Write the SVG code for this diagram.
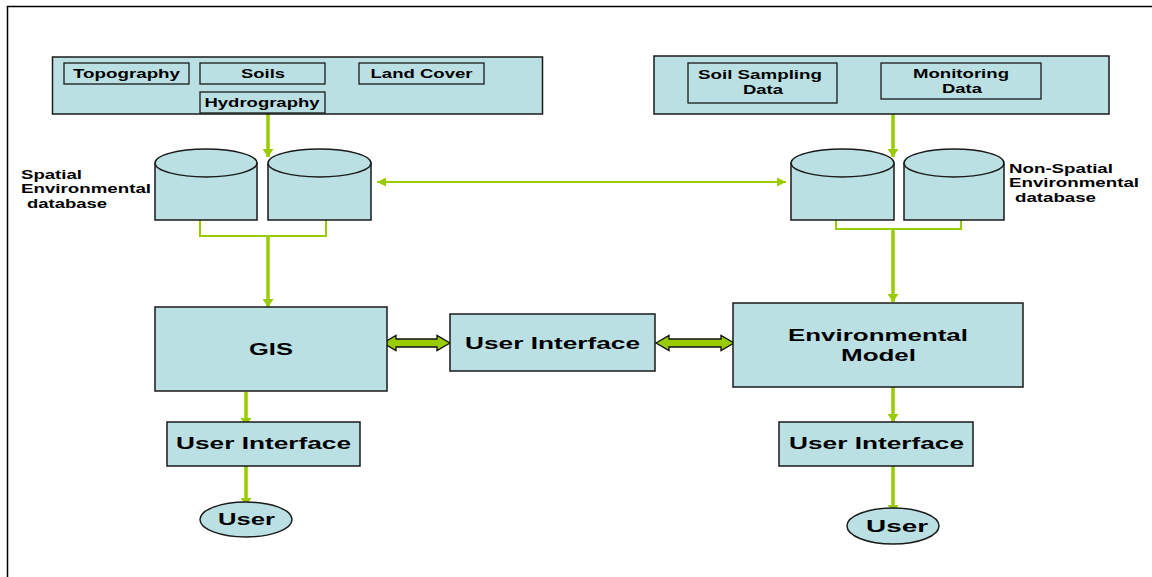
<svg xmlns="http://www.w3.org/2000/svg" width="1152" height="577" viewBox="0 0 1152 577">
<style>
.box{fill:#bbe0e3;stroke:#1a1a1a;stroke-width:1.5}
.inner{fill:#bbe0e3;stroke:#1a1a1a;stroke-width:1.3}
.t{font-family:"Liberation Sans",Arial,sans-serif;font-weight:bold;fill:#000}
.s{font-size:13px}
.l{font-size:17px}
.c{text-anchor:middle}
.ln{stroke:#99cc00;fill:none}
.fat{fill:#99cc00;stroke:#111;stroke-width:1.3;stroke-linejoin:miter}
</style>
<defs>
<marker id="ah" markerUnits="userSpaceOnUse" markerWidth="8" markerHeight="11" viewBox="0 0 8 11" refX="8" refY="5.5" orient="auto-start-reverse">
<path d="M0,0 L8,5.5 L0,11 z" fill="#99cc00"/>
</marker>
<marker id="ahs" markerUnits="userSpaceOnUse" markerWidth="9" markerHeight="9" viewBox="0 0 9 9" refX="9" refY="4.5" orient="auto-start-reverse">
<path d="M0,0 L9,4.5 L0,9 z" fill="#99cc00"/>
</marker>
</defs>
<rect width="1152" height="577" fill="#fff"/>
<path d="M7.5,577 V6.5 H1152" fill="none" stroke="#000" stroke-width="1.5"/>

<g id="connectors">
<line class="ln" x1="268" y1="114" x2="268" y2="157" stroke-width="3.5" marker-end="url(#ah)"/>
<line class="ln" x1="893" y1="114" x2="893" y2="157" stroke-width="3.5" marker-end="url(#ah)"/>
<polyline class="ln" points="200,220 200,236 326,236 326,220" stroke-width="2"/>
<polyline class="ln" points="836,220 836,229 961,229 961,220" stroke-width="2"/>
<line class="ln" x1="268" y1="236" x2="268" y2="307" stroke-width="3.5" marker-end="url(#ah)"/>
<line class="ln" x1="893" y1="229" x2="893" y2="302" stroke-width="3.5" marker-end="url(#ah)"/>
<line class="ln" x1="377" y1="182" x2="786" y2="182" stroke-width="2.2" marker-start="url(#ahs)" marker-end="url(#ahs)"/>
<line class="ln" x1="246" y1="392" x2="246" y2="426" stroke-width="3.5" marker-end="url(#ah)"/>
<line class="ln" x1="246" y1="466" x2="246" y2="506" stroke-width="3.5" marker-end="url(#ah)"/>
<line class="ln" x1="893" y1="387" x2="893" y2="422" stroke-width="3.5" marker-end="url(#ah)"/>
<line class="ln" x1="893" y1="466" x2="893" y2="513" stroke-width="3.5" marker-end="url(#ah)"/>
<polygon class="fat" points="383,343 396,335.5 396,339 437,339 437,335.5 450,343 437,350.5 437,347 396,347 396,350.5"/>
<polygon class="fat" points="656,343 669,335.5 669,339 721,339 721,335.5 734,343 721,350.5 721,347 669,347 669,350.5"/>
</g>

<g id="spatial-sources">
<rect class="box" x="52.5" y="57" width="490" height="57"/>
<g id="topography"><rect class="inner" x="64" y="63" width="125" height="21"/><text class="t s c" x="126.5" y="78" textLength="107" lengthAdjust="spacingAndGlyphs">Topography</text></g>
<g id="soils"><rect class="inner" x="200" y="63" width="125" height="21"/><text class="t s c" x="263" y="78" textLength="44" lengthAdjust="spacingAndGlyphs">Soils</text></g>
<g id="landcover"><rect class="inner" x="359" y="63" width="125" height="21"/><text class="t s c" x="421.5" y="78" textLength="102" lengthAdjust="spacingAndGlyphs">Land Cover</text></g>
<g id="hydrography"><rect class="inner" x="200" y="92" width="125" height="21"/><text class="t s c" x="262" y="107" textLength="115" lengthAdjust="spacingAndGlyphs">Hydrography</text></g>
</g>

<g id="nonspatial-sources">
<rect class="box" x="654" y="56" width="455" height="58"/>
<g id="soilsampling"><rect class="inner" x="688" y="63" width="149" height="40"/><text class="t s c" x="760" y="79" textLength="124" lengthAdjust="spacingAndGlyphs">Soil Sampling</text><text class="t s c" x="763" y="94" textLength="40" lengthAdjust="spacingAndGlyphs">Data</text></g>
<g id="monitoring"><rect class="inner" x="881" y="63" width="160" height="36"/><text class="t s c" x="961" y="78" textLength="96" lengthAdjust="spacingAndGlyphs">Monitoring</text><text class="t s c" x="962" y="93" textLength="40" lengthAdjust="spacingAndGlyphs">Data</text></g>
</g>

<g id="spatial-db">
<path class="box" d="M155,163 V220 H257 V163"/><ellipse class="box" cx="206" cy="163" rx="51" ry="14"/>
<path class="box" d="M268,163 V220 H371 V163"/><ellipse class="box" cx="319.5" cy="163" rx="51.5" ry="14"/>
<text class="t s" x="21" y="179" textLength="61" lengthAdjust="spacingAndGlyphs">Spatial</text>
<text class="t s" x="21" y="193" textLength="130" lengthAdjust="spacingAndGlyphs">Environmental</text>
<text class="t s" x="27" y="208" textLength="80" lengthAdjust="spacingAndGlyphs">database</text>
</g>

<g id="nonspatial-db">
<path class="box" d="M791,163 V220 H894 V163"/><ellipse class="box" cx="842.5" cy="163" rx="51.5" ry="14"/>
<path class="box" d="M904,163 V220 H1004 V163"/><ellipse class="box" cx="954" cy="163" rx="50" ry="14"/>
<text class="t s" x="1009" y="173" textLength="104" lengthAdjust="spacingAndGlyphs">Non-Spatial</text>
<text class="t s" x="1009" y="187" textLength="130" lengthAdjust="spacingAndGlyphs">Environmental</text>
<text class="t s" x="1015" y="202" textLength="81" lengthAdjust="spacingAndGlyphs">database</text>
</g>

<g id="gis"><rect class="box" x="155" y="307" width="232" height="84"/><text class="t l c" x="271" y="355" textLength="44" lengthAdjust="spacingAndGlyphs">GIS</text></g>
<g id="ui-center"><rect class="box" x="450" y="314" width="205" height="57"/><text class="t l c" x="552.5" y="349" textLength="175" lengthAdjust="spacingAndGlyphs">User Interface</text></g>
<g id="env-model"><rect class="box" x="733" y="303" width="290" height="84"/><text class="t l c" x="878" y="341" textLength="180" lengthAdjust="spacingAndGlyphs">Environmental</text><text class="t l c" x="878.5" y="361" textLength="75" lengthAdjust="spacingAndGlyphs">Model</text></g>
<g id="ui-left"><rect class="box" x="167" y="422" width="193" height="44"/><text class="t l c" x="263.5" y="449" textLength="175" lengthAdjust="spacingAndGlyphs">User Interface</text></g>
<g id="ui-right"><rect class="box" x="779" y="422" width="194" height="44"/><text class="t l c" x="876.5" y="449" textLength="175" lengthAdjust="spacingAndGlyphs">User Interface</text></g>
<g id="user-left"><ellipse class="box" cx="246" cy="519.5" rx="46" ry="17.5"/><text class="t l c" x="246.5" y="525" textLength="57" lengthAdjust="spacingAndGlyphs">User</text></g>
<g id="user-right"><ellipse class="box" cx="893" cy="526" rx="46" ry="18"/><text class="t l c" x="897" y="532" textLength="62" lengthAdjust="spacingAndGlyphs">User</text></g>
</svg>
